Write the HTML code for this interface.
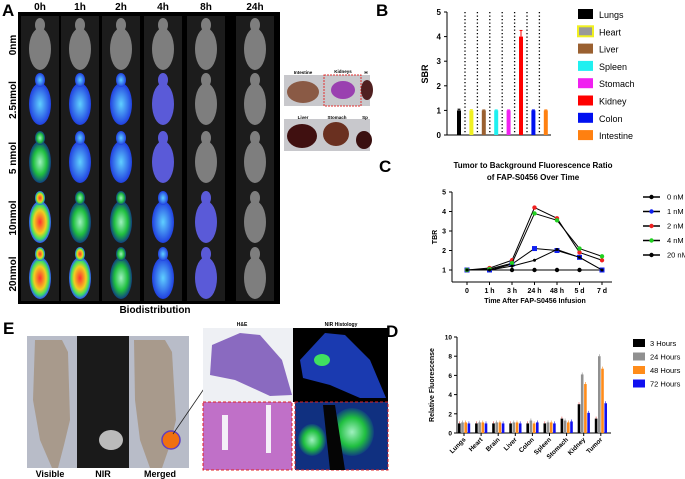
<!DOCTYPE html>
<html><head><meta charset="utf-8"><style>
body{margin:0;background:#fff;}
svg{display:block;font-family:"Liberation Sans",Arial,sans-serif;}
</style></head><body>
<svg id="fig" width="685" height="479" viewBox="0 0 685 479">
<defs>
<radialGradient id="heat" cx="50%" cy="50%" r="50%"><stop offset="0" stop-color="#ff3030"/><stop offset="0.55" stop-color="#f0d020"/><stop offset="0.8" stop-color="#40e060"/><stop offset="1" stop-color="#3050ff"/></radialGradient>
<radialGradient id="blu" cx="50%" cy="50%" r="50%"><stop offset="0" stop-color="#60d0ff"/><stop offset="1" stop-color="#2040e0"/></radialGradient>
<radialGradient id="grn" cx="50%" cy="50%" r="50%"><stop offset="0" stop-color="#a0f0c0"/><stop offset="0.6" stop-color="#20c040"/><stop offset="1" stop-color="#104080"/></radialGradient>
</defs>

<!-- Panel A -->
<g>
<text x="2" y="16" font-size="17" font-weight="bold">A</text>
<rect x="18" y="12" width="262" height="292" fill="#000"/>
<g id="mice"></g>
<g font-size="10" font-weight="bold" text-anchor="middle" id="colLabels"></g>
<g font-size="10" font-weight="bold" text-anchor="middle" id="rowLabels"></g>
<text x="155" y="313" font-size="10" font-weight="bold" text-anchor="middle">Biodistribution</text>
</g>

<!-- Organs photos -->
<g font-size="4.5" font-weight="bold" text-anchor="middle">
<rect x="284" y="75" width="86" height="31" fill="#c8c8cc"/>
<rect x="284" y="119" width="86" height="32" fill="#c8c8cc"/>
<ellipse cx="303" cy="92" rx="16" ry="11" fill="#8a5a45"/>
<ellipse cx="343" cy="90" rx="12" ry="9" fill="#9a40b0"/>
<rect x="324" y="75" width="37" height="31" fill="none" stroke="#e03030" stroke-dasharray="2,1"/>
<ellipse cx="367" cy="90" rx="6" ry="10" fill="#502020"/>
<ellipse cx="302" cy="136" rx="15" ry="12" fill="#401010"/>
<ellipse cx="336" cy="134" rx="13" ry="12" fill="#6a3020"/>
<ellipse cx="364" cy="140" rx="8" ry="9" fill="#3a1010"/>
<text x="303" y="74">Intestine</text><text x="343" y="73">Kidneys</text><text x="366" y="74">H</text>
<text x="303" y="119">Liver</text><text x="337" y="119">Stomach</text><text x="365" y="119">Sp</text>
</g>

<!-- Panel B -->
<g>
<text x="376" y="16" font-size="17" font-weight="bold">B</text>
<g id="chartB"></g>
</g>

<!-- Panel C -->
<g>
<text x="379" y="172" font-size="17" font-weight="bold">C</text>
<text x="533" y="168" font-size="8" font-weight="bold" text-anchor="middle">Tumor to Background Fluorescence Ratio</text>
<text x="533" y="180" font-size="8" font-weight="bold" text-anchor="middle">of FAP-S0456 Over Time</text>
<g id="chartC"></g>
</g>

<!-- Panel D -->
<g>
<text x="386" y="337" font-size="17" font-weight="bold">D</text>
<g id="chartD"></g>
</g>

<!-- Panel E -->
<g>
<text x="3" y="334" font-size="17" font-weight="bold">E</text>
<rect x="27" y="336" width="51" height="132" fill="#b8bcc8"/>
<path d="M35 340 L62 340 L68 352 L70 420 L64 445 L58 468 L52 468 L40 440 L33 400 Z" fill="#a89a8c"/>
<rect x="77" y="336" width="52" height="132" fill="#1a1a1a"/>
<ellipse cx="111" cy="440" rx="12" ry="10" fill="#bbb"/>
<rect x="129" y="336" width="60" height="132" fill="#b8bcc8"/>
<path d="M134 340 L165 340 L172 352 L176 420 L170 445 L162 468 L150 468 L140 440 L135 400 Z" fill="#a89a8c"/>
<ellipse cx="171" cy="440" rx="9" ry="9" fill="#f07010" stroke="#6040c0" stroke-width="1.5"/>
<line x1="173" y1="434" x2="210" y2="380" stroke="#222" stroke-width="0.8"/>
<text x="50" y="477" font-size="9" font-weight="bold" text-anchor="middle">Visible</text>
<text x="103" y="477" font-size="9" font-weight="bold" text-anchor="middle">NIR</text>
<text x="160" y="477" font-size="9" font-weight="bold" text-anchor="middle">Merged</text>
<text x="242" y="326" font-size="5" font-weight="bold" text-anchor="middle">H&amp;E</text>
<text x="341" y="326" font-size="5" font-weight="bold" text-anchor="middle">NIR Histology</text>
<rect x="203" y="328" width="90" height="74" fill="#eef0f4"/>
<path d="M212 345 L240 333 L260 335 L282 360 L292 395 L270 396 L235 380 L210 375 Z" fill="#8a6ac0"/>
<rect x="293" y="328" width="95" height="74" fill="#000"/>
<path d="M300 360 L325 333 L345 335 L370 360 L386 398 L360 398 L330 385 L303 378 Z" fill="#1a3ab0"/>
<ellipse cx="322" cy="360" rx="8" ry="6" fill="#40e060"/>
<rect x="203" y="402" width="89" height="68" fill="#c070c8" stroke="#e02020" stroke-dasharray="3,2"/>
<rect x="222" y="415" width="6" height="35" fill="#f4eef8"/><rect x="266" y="405" width="5" height="48" fill="#f4eef8"/>
<rect x="295" y="402" width="93" height="68" fill="#103080" stroke="#e02020" stroke-dasharray="3,2"/>
<ellipse cx="312" cy="440" rx="14" ry="16" fill="url(#grn)"/><ellipse cx="352" cy="432" rx="22" ry="24" fill="url(#grn)"/>
<path d="M323 405 L335 405 L345 470 L330 470 Z" fill="#050505"/>
</g>
</svg>
<script>
const NS="http://www.w3.org/2000/svg";
function mk(tag,attrs,parent,txt){const e=document.createElementNS(NS,tag);for(const k in attrs)e.setAttribute(k,attrs[k]);if(txt!==undefined)e.textContent=txt;parent.appendChild(e);return e;}

// ---------- Panel A ----------
const timeLabels=["0h","1h","2h","4h","8h","24h"];
const doseLabels=["0nm","2.5nmol","5 nmol","10nmol","20nmol"];
const intensity=[[0,0,0,0,0,0],[2,2,2,1,0,0],[3,2,2,1,0,0],[4,3,3,2,1,0],[4,4,3,2,1,0]];
const colX=[40,80,121,163,206,255];
const rowY=[45,100,158,218,274];
const mice=document.getElementById('mice');
const fills=["#7e7e7e","#5a5ad8","url(#blu)","url(#grn)","url(#heat)"];
colX.forEach((x,c)=>{mk('rect',{x:x-19,y:16,width:38,height:285,fill:"#1c1c1c"},mice);});
intensity.forEach((row,r)=>row.forEach((v,c)=>{
  const g=mk('g',{},mice);
  
  
  mk('ellipse',{cx:colX[c],cy:rowY[r]+4,rx:11,ry:21,fill:fills[v]},g);
  mk('ellipse',{cx:colX[c],cy:rowY[r]-20,rx:5,ry:7,fill:fills[v]},g);
}));
const cl=document.getElementById('colLabels');
timeLabels.forEach((t,i)=>{const e=mk('text',{x:colX[i],y:10},cl,t);
  
  });
const rl=document.getElementById('rowLabels');
doseLabels.forEach((t,i)=>{const e=mk('text',{x:13,y:rowY[i],transform:`rotate(-90 13 ${rowY[i]})`,dy:3},rl,t);
  
  });

// ---------- Panel B ----------
const organsB=["Lungs","Heart","Liver","Spleen","Stomach","Kidney","Colon","Intestine"];
const sbrValues=[1,1,1,1,1,4,1,1];
const sbrErr=[0.05,0.03,0.02,0.02,0.02,0.25,0.02,0.02];
const colorsB=["#000","#f0f020","#9a6030","#20f0f0","#f020f0","#f00","#0010f0","#ff8010"];
const bTicks=[0,1,2,3,4,5];
const gB=document.getElementById('chartB');
const bx0=447,bx1=551,by0=135,by5=12;
const yB=v=>by0-(by0-by5)*v/5;
const xB=i=>459+i*12.4;
mk('line',{x1:bx0,y1:by5,x2:bx0,y2:by0,stroke:"#000","stroke-width":1},gB);
mk('line',{x1:bx0,y1:by0,x2:bx1,y2:by0,stroke:"#000","stroke-width":1},gB);
bTicks.forEach(t=>{mk('line',{x1:bx0-3,y1:yB(t),x2:bx0,y2:yB(t),stroke:"#000"},gB);
  const e=mk('text',{x:bx0-6,y:yB(t)+3,"font-size":8,"font-weight":"bold","text-anchor":"end"},gB,t);
  
  });
const yt=mk('text',{x:428,y:74,"font-size":9,"font-weight":"bold","text-anchor":"middle",transform:"rotate(-90 428 74)"},gB,"SBR");


for(let i=0;i<7;i++){mk('line',{x1:xB(i)+6,y1:by5,x2:xB(i)+6,y2:by0,stroke:"#000","stroke-width":1.3,"stroke-dasharray":"1.3,2.2"},gB);}
sbrValues.forEach((v,i)=>{
  const r=mk('rect',{x:xB(i)-2,y:yB(v),width:4,height:by0-yB(v),fill:colorsB[i]},gB);
  
  
  mk('line',{x1:xB(i),y1:yB(v+sbrErr[i]),x2:xB(i),y2:yB(v),stroke:colorsB[i]},gB);
  mk('line',{x1:xB(i)-1.5,y1:yB(v+sbrErr[i]),x2:xB(i)+1.5,y2:yB(v+sbrErr[i]),stroke:colorsB[i]},gB);
  const ly=9+i*17.3;
  const lb=mk('rect',{x:578,y:ly,width:15,height:10,fill:colorsB[i]},gB);
  
  
  if(i===1){lb.setAttribute('fill','#999');lb.setAttribute('stroke','#f0f020');lb.setAttribute('stroke-width','2');}
  const lt=mk('text',{x:599,y:ly+9,"font-size":9},gB,organsB[i]);
  
  
});

// ---------- Panel C ----------
const timesC=["0","1 h","3 h","24 h","48 h","5 d","7 d"];
const s0=[1,1,1,1,1,1,1];
const s1=[1,1,1.3,2.1,2.0,1.65,1.0];
const s2=[1,1.1,1.5,4.2,3.65,1.9,1.5];
const s4=[1,1.05,1.35,3.9,3.55,2.1,1.7];
const s20=[1,1,1.2,1.5,2.05,1.65,1.0];
const seriesC=[s0,s1,s2,s4,s20];
const namesC=["0 nM","1 nM","2 nM","4 nM","20 nM"];
const colorsC=["#000","#1020f0","#f02020","#20d020","#000"];
const cTicks=[1,2,3,4,5];
const gC=document.getElementById('chartC');
const xC=i=>467+i*22.5;
const yC=v=>270-(v-1)*19.5;
mk('line',{x1:452,y1:192,x2:452,y2:282,stroke:"#000"},gC);
mk('line',{x1:452,y1:282,x2:612,y2:282,stroke:"#000"},gC);
cTicks.forEach(t=>{mk('line',{x1:449,y1:yC(t),x2:452,y2:yC(t),stroke:"#000"},gC);
  const e=mk('text',{x:446,y:yC(t)+2.5,"font-size":7,"font-weight":"bold","text-anchor":"end"},gC,t);
  
  });
timesC.forEach((t,i)=>{mk('line',{x1:xC(i),y1:282,x2:xC(i),y2:285,stroke:"#000"},gC);
  const e=mk('text',{x:xC(i),y:293,"font-size":7,"font-weight":"bold","text-anchor":"middle"},gC,t);
  
  });
const cxt=mk('text',{x:535,y:303,"font-size":7,"font-weight":"bold","text-anchor":"middle"},gC,"Time After FAP-S0456 Infusion");


const cyt=mk('text',{x:437,y:237,"font-size":7,"font-weight":"bold","text-anchor":"middle",transform:"rotate(-90 437 237)"},gC,"TBR");


seriesC.forEach((s,k)=>{
  const pl=mk('polyline',{points:s.map((v,i)=>xC(i)+","+yC(v)).join(" "),fill:"none",stroke:"#000","stroke-width":1},gC);
  
  
  s.forEach((v,i)=>{
    const p=k===1?mk('rect',{x:xC(i)-2.5,y:yC(v)-2.5,width:5,height:5,fill:colorsC[k]},gC):mk('circle',{cx:xC(i),cy:yC(v),r:k===4?1.5:2.2,fill:colorsC[k]},gC);
    
    
  });
  const ly=197+k*14.5;
  mk('line',{x1:643,y1:ly,x2:660,y2:ly,stroke:"#000","stroke-width":1.5},gC);
  mk('circle',{cx:651.5,cy:ly,r:2.2,fill:colorsC[k]},gC);
  const t=mk('text',{x:667,y:ly+2.5,"font-size":7.5},gC,namesC[k]);
  
  
});

// ---------- Panel D ----------
const organsD=["Lungs","Heart","Brain","Liver","Colon","Spleen","Stomach","Kidney","Tumor"];
const h3=[1,1,1,1,1,1,1.5,3.0,1.5];
const h24=[1.1,1.1,1.1,1.1,1.3,1.1,1.3,6.1,8.0];
const h48=[1.1,1.1,1.1,1.1,1.0,1.1,1.1,5.1,6.7];
const h72=[1.0,1.0,1.0,1.0,1.1,1.0,1.2,2.1,3.1];
const seriesD=[h3,h24,h48,h72];
const namesD=["3 Hours","24 Hours","48 Hours","72 Hours"];
const colorsD=["#000","#909090","#ff8c1a","#1010f0"];
const dTicks=[0,2,4,6,8,10];
const gD=document.getElementById('chartD');
const yD=v=>433-v*9.6;
const xD=i=>464+i*17.1;
mk('line',{x1:457,y1:337,x2:457,y2:433,stroke:"#000"},gD);
mk('line',{x1:457,y1:433,x2:611,y2:433,stroke:"#000"},gD);
dTicks.forEach(t=>{mk('line',{x1:454,y1:yD(t),x2:457,y2:yD(t),stroke:"#000"},gD);
  const e=mk('text',{x:452,y:yD(t)+2.5,"font-size":6.5,"font-weight":"bold","text-anchor":"end"},gD,t);
  
  });
const dyt=mk('text',{x:434,y:385,"font-size":7,"font-weight":"bold","text-anchor":"middle",transform:"rotate(-90 434 385)"},gD,"Relative Fluorescense");


organsD.forEach((o,i)=>{
  mk('line',{x1:xD(i),y1:433,x2:xD(i),y2:436,stroke:"#000"},gD);
  const e=mk('text',{x:xD(i)+2,y:440,"font-size":6.5,"font-weight":"bold","text-anchor":"end",transform:`rotate(-45 ${xD(i)+2} 440)`},gD,o);
  
  
});
seriesD.forEach((s,k)=>{
  s.forEach((v,i)=>{
    const x=xD(i)-6+k*3.2;
    const r=mk('rect',{x:x,y:yD(v),width:2.6,height:433-yD(v),fill:colorsD[k]},gD);
    
    
    mk('line',{x1:x+1.3,y1:yD(v)-2,x2:x+1.3,y2:yD(v),stroke:k===0?"#e04040":colorsD[k],"stroke-width":0.6},gD);
  });
  const ly=343+k*13.5;
  const lb=mk('rect',{x:633,y:ly-4,width:12,height:8,fill:colorsD[k]},gD);
  
  
  const t=mk('text',{x:650,y:ly+3,"font-size":7.5},gD,namesD[k]);
  
  
});
</script>
</body></html>
